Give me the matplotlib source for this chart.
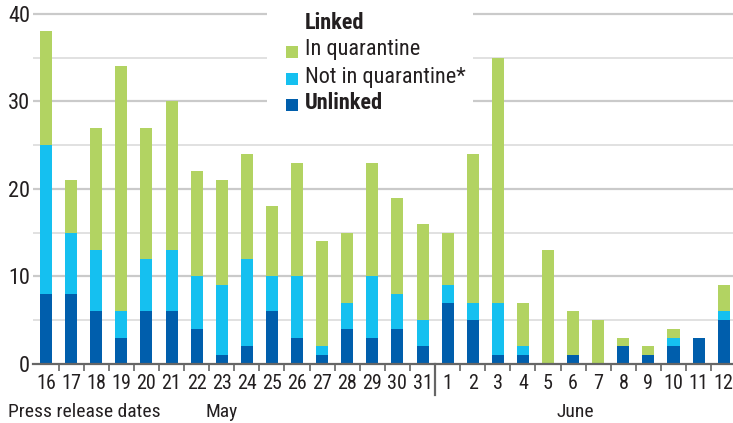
import matplotlib
matplotlib.use('Agg')
import matplotlib.pyplot as plt
from matplotlib.patches import Rectangle
from matplotlib import font_manager

# look for a narrow face; fall back to DejaVu
fam, stretch = 'DejaVu Sans', 'normal'
flist = font_manager.fontManager.ttflist
for pref in ['Liberation Sans Narrow', 'Roboto Condensed', 'Open Sans Condensed']:
    if any(f.name == pref for f in flist):
        fam = pref
        break
else:
    for pref in ['Roboto', 'Open Sans', 'DejaVu Sans', 'Noto Sans']:
        hits = [f for f in flist if f.name == pref and f.stretch in ('condensed', 'semi-condensed', 'semicondensed')]
        if hits:
            fam, stretch = pref, hits[0].stretch
            break
plt.rcParams['font.family'] = [fam, 'DejaVu Sans']
plt.rcParams['font.stretch'] = stretch

days = ['16', '17', '18', '19', '20', '21', '22', '23', '24', '25', '26', '27', '28', '29', '30', '31',
        '1', '2', '3', '4', '5', '6', '7', '8', '9', '10', '11', '12']
unlinked = [8, 8, 6, 3, 6, 6, 4, 1, 2, 6, 3, 1, 4, 3, 4, 2,
            7, 5, 1, 1, 0, 1, 0, 2, 1, 2, 3, 5]
not_quarantine = [17, 7, 7, 3, 6, 7, 6, 8, 10, 4, 7, 1, 3, 7, 4, 3,
                  2, 2, 6, 1, 0, 0, 0, 0, 0, 1, 0, 1]
in_quarantine = [13, 6, 14, 28, 15, 17, 12, 12, 12, 8, 13, 12, 8, 13, 11, 11,
                 6, 17, 28, 5, 13, 5, 5, 1, 1, 1, 0, 3]

green = '#b2d362'
light = '#15c0f0'
dark = '#005eac'
ink = '#231f20'
narrow = stretch != 'normal' or fam != 'DejaVu Sans'
fs = 14.5 if narrow else 12.5
lfs = 16 if narrow else 13.5

fig = plt.figure(figsize=(7.33, 4.23), dpi=100)
ax = fig.add_axes([33/733, 59/423, 700/733, (364 - 9.6)/423])

x = list(range(len(days)))
mid = [u + n for u, n in zip(unlinked, not_quarantine)]
ax.bar(x, unlinked, width=0.48, color=dark, zorder=2)
ax.bar(x, not_quarantine, bottom=unlinked, width=0.48, color=light, zorder=2)
ax.bar(x, in_quarantine, bottom=mid, width=0.48, color=green, zorder=2)

ax.set_xlim(-0.52, 27.37)
ax.set_ylim(0, 40.5)

for v in [5, 15, 25, 35]:
    ax.axhline(v, color='#dedede', lw=1.3, zorder=0.5)
for v in [10, 20, 30, 40]:
    ax.axhline(v, color='#cacaca', lw=1.6, zorder=0.5)

for s in ['top', 'right', 'left']:
    ax.spines[s].set_visible(False)
ax.spines['bottom'].set_color('#666666')
ax.spines['bottom'].set_linewidth(1.6)
ax.spines['bottom'].set_zorder(3)

ax.set_yticks([0, 10, 20, 30, 40])
ax.tick_params(axis='y', length=0, pad=2, labelsize=fs + 1.5, labelcolor=ink)
ax.set_xticks(x)
ax.set_xticklabels(days)
ax.tick_params(axis='x', which='major', length=0, pad=7, labelsize=fs, labelcolor=ink)
ax.set_xticks([i + 0.5 for i in range(len(days) - 1)], minor=True)
ax.tick_params(axis='x', which='minor', length=5, width=1.2, color='#666666')

# separator between May and June
ax.plot([15.5, 15.5], [0, -3.5], color='#666666', lw=1.6, clip_on=False, zorder=3)

# white box behind the legend
fig.patches.append(Rectangle((267/733, 1 - 110/423), 206/733, 110/423,
                             transform=fig.transFigure, facecolor='white',
                             edgecolor='none', zorder=1))

fig.text(305/733, 1 - 23/423, 'Linked', fontsize=lfs, fontweight='bold',
         va='center', color=ink)
items = [(green, 'In quarantine', 'normal', 50),
         (light, 'Not in quarantine*', 'normal', 77),
         (dark, 'Unlinked', 'bold', 103)]
for c, lab, w, py in items:
    fig.patches.append(Rectangle((286/733, 1 - (py + 8)/423), 12/733, 12/423,
                                 transform=fig.transFigure, facecolor=c,
                                 edgecolor='none', zorder=2))
    fig.text(305/733, 1 - py/423, lab, fontsize=lfs, fontweight=w,
             va='center', color=ink)

fig.text(8/733, 1 - 412/423, 'Press release dates', fontsize=14, va='center', color=ink)
fig.text(222/733, 1 - 412/423, 'May', fontsize=14, va='center', ha='center', color=ink)
fig.text(575/733, 1 - 412/423, 'June', fontsize=14, va='center', ha='center', color=ink)

fig.savefig('out.png', dpi=100)
